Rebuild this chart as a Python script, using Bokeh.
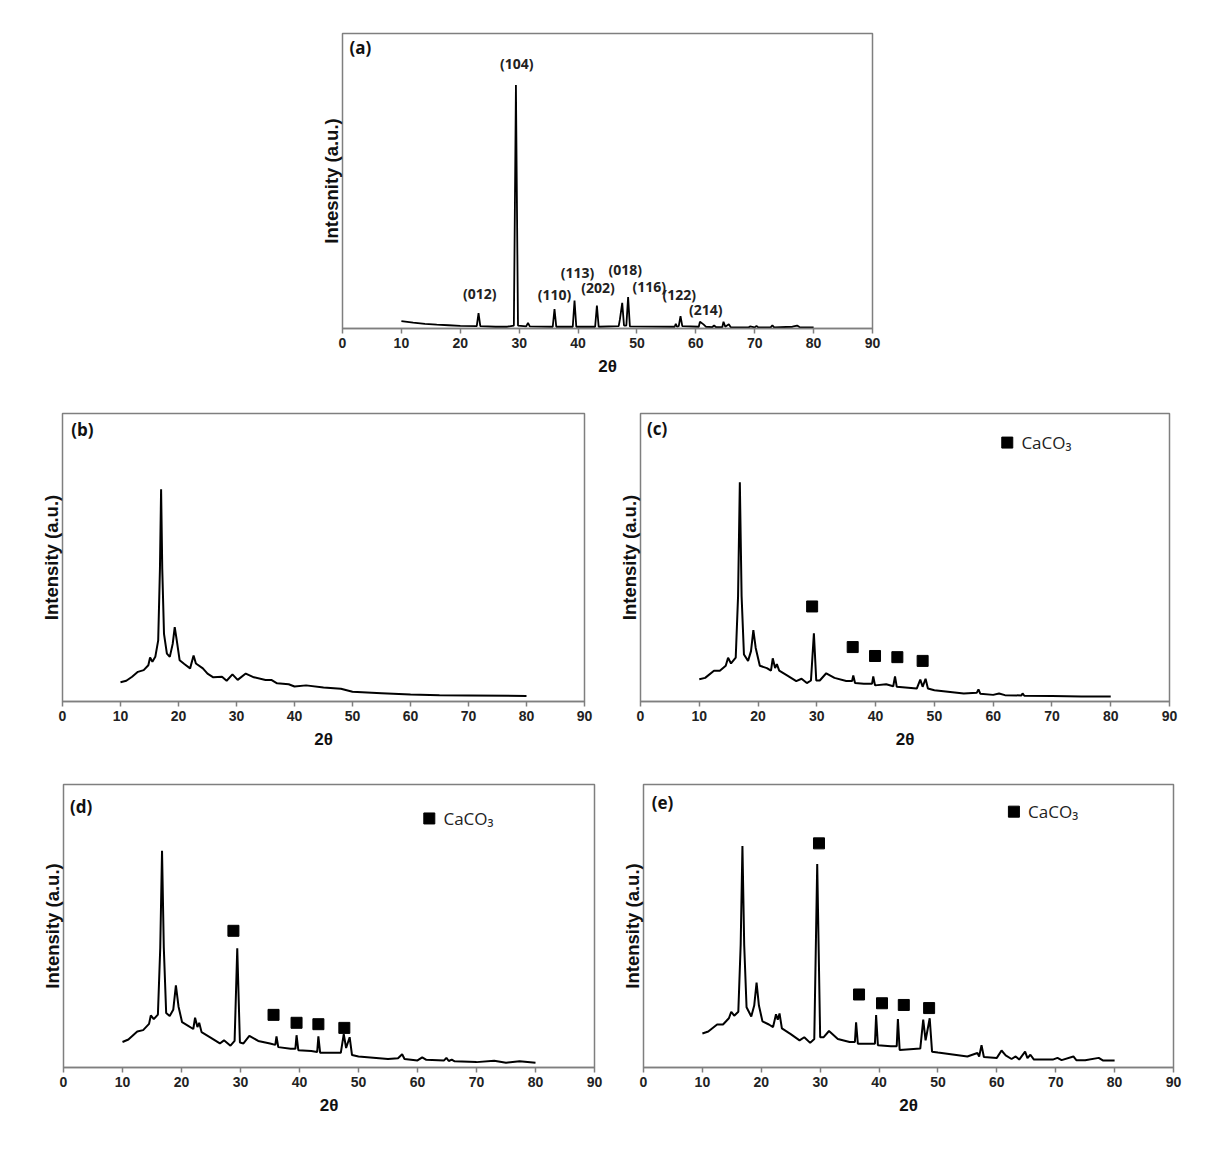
from bokeh.plotting import figure
from bokeh.layouts import column, row
from bokeh.models import Range1d, FixedTicker, Label
from bokeh.core.properties import value
from bokeh.embed import file_html
from bokeh.resources import INLINE

# ---------------- data ----------------
x_ticks = [0, 10, 20, 30, 40, 50, 60, 70, 80, 90]

# (a) calcite reference pattern
a_x = [10.0, 12, 14, 16, 18, 20, 22.8, 23.1, 23.4, 26, 28, 29.1, 29.45, 29.8, 31.2, 31.5, 31.8,
       35.7, 36.0, 36.3, 39.1, 39.4, 39.7, 42.9, 43.2, 43.5, 46.9, 47.1, 47.5, 47.8, 48.2, 48.5, 48.8,
       56.4, 56.6, 56.8, 57.1, 57.4, 57.7, 60.5, 60.7, 61.3, 61.7, 62.8, 63.1, 63.4, 64.5, 64.7, 65.0,
       65.6, 65.9, 69.0, 69.2, 70.0, 70.3, 70.6, 72.7, 73.0, 73.3, 76.4, 77.2, 77.6, 80.0]
a_y = [2.5, 2.0, 1.6, 1.3, 1.1, 0.9, 0.8, 5.2, 0.8, 0.6, 0.6, 1.0, 82.5, 1.0, 0.7, 1.9, 0.7,
       0.6, 6.6, 0.6, 0.6, 9.5, 0.6, 0.6, 7.8, 0.6, 0.8, 3.0, 8.7, 1.0, 1.0, 10.7, 0.7,
       0.6, 1.6, 0.6, 0.8, 4.2, 0.8, 0.6, 2.3, 1.4, 0.6, 0.5, 1.0, 0.5, 0.5, 2.3, 0.6,
       1.4, 0.5, 0.4, 0.7, 0.4, 0.9, 0.4, 0.4, 1.1, 0.4, 0.6, 1.0, 0.5, 0.4]
a_peak_labels = ["(012)", "(104)", "(110)", "(113)", "(202)", "(018)", "(116)", "(122)", "(214)"]
a_label_x = [23.3, 29.6, 36.0, 39.9, 43.4, 48.0, 52.1, 57.2, 61.7]
a_label_y = [11.8, 89.8, 11.5, 18.9, 13.8, 20.0, 14.1, 11.5, 6.4]

# (b)
b_x = [10, 11, 12, 13, 14, 14.8, 15.1, 15.5, 16.0, 16.5, 16.8, 17.0, 17.2, 17.5, 18.0, 18.5,
       19.0, 19.35, 19.7, 20.2, 21, 22, 22.6, 23, 24.2, 25, 26, 27.5, 28.3, 29.3, 30.2, 31.6,
       33, 35, 36, 37, 39, 40, 42, 45, 48, 50, 55, 60, 65, 70, 80]
b_y = [6.7, 7.2, 8.6, 10.3, 10.9, 12.6, 15.3, 13.8, 15.5, 21.2, 46.0, 73.7, 46.0, 23.5, 16.6, 15.5,
       20.0, 25.8, 21.2, 14.3, 13.0, 11.5, 16.0, 13.2, 11.5, 9.7, 8.4, 8.6, 7.2, 9.4, 7.5, 9.7,
       8.4, 7.5, 7.5, 6.3, 6.0, 5.2, 5.6, 4.9, 4.4, 3.4, 2.9, 2.4, 2.2, 2.1, 1.9]

# (c)
c_x = [10, 11, 12.5, 13.5, 14.5, 14.9, 15.4, 16.2, 16.6, 16.9, 17.2, 17.6, 18.3, 18.8, 19.2, 19.6,
       20.3, 21.5, 22.2, 22.5, 22.9, 23.2, 23.6, 25, 26.5, 27.4, 28.3, 29.0, 29.5, 29.9, 30.5, 31.6,
       33, 35, 36.0, 36.2, 36.5, 38, 39.4, 39.6, 39.9, 41.8, 43.0, 43.3, 43.6, 47.0, 47.6, 48.0,
       48.5, 48.9, 50, 55, 57.2, 57.5, 57.8, 60, 61, 62, 64.8, 65.0, 65.3, 70, 75, 80]
c_y = [7.7, 8.2, 10.7, 10.7, 12.4, 15.2, 13.2, 15.2, 36.6, 76.1, 36.6, 16.3, 14.1, 17.5, 24.8, 18.6,
       12.4, 11.6, 10.7, 15.0, 11.6, 13.0, 10.7, 9.0, 7.1, 7.9, 6.4, 7.3, 23.7, 7.3, 7.3, 9.8,
       8.2, 7.1, 7.1, 9.0, 6.4, 6.2, 6.2, 8.7, 5.6, 6.0, 5.3, 8.7, 5.1, 4.5, 7.6, 5.1,
       7.9, 4.5, 3.9, 2.8, 3.0, 4.2, 2.7, 2.3, 2.8, 2.2, 2.1, 2.8, 2.0, 1.9, 1.7, 1.7]
c_mark_x = [29.2, 36.1, 39.9, 43.7, 48.0]
c_mark_y = [33.0, 18.9, 15.8, 15.4, 14.1]

# (d)
d_x = [10, 11, 12.5, 13.5, 14.5, 14.8, 15.3, 16.0, 16.4, 16.7, 17.0, 17.4, 18.0, 18.6, 19.05, 19.5,
       20.1, 21.0, 22.0, 22.3, 22.7, 23.0, 23.4, 25, 26.5, 27.2, 28.3, 29.0, 29.45, 29.9, 30.5, 31.5,
       33, 35, 35.9, 36.1, 36.4, 38.5, 39.3, 39.5, 39.8, 42, 43.0, 43.2, 43.5, 47.0, 47.5, 47.9,
       48.5, 48.9, 50, 55, 56.7, 57.4, 57.8, 60, 60.8, 61.5, 64.5, 64.9, 65.3, 65.8, 66.3, 70,
       73, 75, 77.3, 80]
d_y = [9.0, 9.9, 12.7, 13.2, 15.4, 18.4, 17.1, 18.7, 42.4, 76.6, 42.4, 19.3, 18.2, 20.4, 29.0, 21.5,
       16.0, 14.9, 13.6, 17.6, 14.3, 15.8, 12.5, 10.5, 8.5, 9.6, 7.7, 9.4, 42.1, 8.8, 8.5, 11.2,
       9.4, 8.5, 8.0, 11.0, 7.2, 6.6, 6.6, 11.4, 6.1, 5.8, 5.5, 11.0, 5.2, 5.2, 11.8, 6.9,
       10.7, 4.4, 3.9, 3.0, 3.3, 4.7, 3.0, 2.5, 3.6, 2.7, 2.5, 3.4, 2.3, 2.8, 2.2, 1.9,
       2.4, 1.7, 2.2, 1.7]
d_mark_x = [28.8, 35.6, 39.5, 43.2, 47.6]
d_mark_y = [48.3, 18.6, 15.8, 15.3, 14.0]

# (e)
e_x = [10, 11, 12.5, 13.5, 14.5, 14.9, 15.4, 16.1, 16.5, 16.8, 17.1, 17.5, 18.3, 18.8, 19.2, 19.6,
       20.2, 21.3, 22.0, 22.5, 22.8, 23.1, 23.5, 25, 26.5, 27.3, 28.3, 29.0, 29.5, 30.0, 30.6, 31.5,
       33, 35, 35.9, 36.1, 36.4, 38, 39.3, 39.5, 39.8, 42, 43.0, 43.2, 43.5, 47.0, 47.5, 47.9,
       48.6, 49.0, 50, 55, 56.7, 57.0, 57.4, 57.8, 60, 60.8, 61.5, 62.5, 63.2, 63.8, 64.8, 65.2,
       65.7, 66.3, 69.5, 70.3, 71, 73.0, 73.5, 75, 77.3, 78, 80]
e_y = [12.0, 12.7, 15.2, 15.2, 17.4, 19.7, 18.3, 19.7, 43.3, 78.3, 43.3, 21.3, 18.0, 21.9, 30.0, 21.9,
       16.3, 15.2, 14.3, 18.8, 16.9, 19.1, 13.8, 11.8, 9.6, 10.7, 8.7, 10.1, 71.9, 10.7, 10.7, 12.9,
       10.1, 9.0, 9.0, 16.0, 8.4, 8.4, 8.4, 18.5, 7.9, 7.5, 7.5, 17.1, 6.2, 6.7, 16.9, 9.6,
       17.4, 5.6, 5.3, 3.9, 5.1, 3.9, 7.9, 3.7, 3.4, 6.0, 4.3, 3.0, 3.9, 2.8, 5.6, 3.3,
       4.5, 2.8, 2.8, 3.4, 2.6, 3.9, 2.6, 2.6, 3.4, 2.5, 2.5]
e_mark_x = [29.8, 36.6, 40.5, 44.2, 48.5]
e_mark_y = [79.2, 25.8, 22.7, 22.1, 21.0]

legend_text = "CaCO\u2083"

# ---------------- drawing ----------------
GRAY = "#7f7f7f"


def make_panel(width, height, left, right, top, bottom, ylabel):
    p = figure(width=width, height=height, output_backend="svg", toolbar_location=None, tools="",
               x_range=Range1d(0, 90), y_range=Range1d(0, 100), title_location=None,
               min_border_left=left, min_border_right=right,
               min_border_top=top, min_border_bottom=bottom)
    p.background_fill_color = "white"
    p.border_fill_color = "white"
    p.outline_line_color = GRAY
    p.outline_line_width = 1.5
    p.xgrid.visible = False
    p.ygrid.visible = False

    xa = p.xaxis[0]
    xa.ticker = FixedTicker(ticks=x_ticks)
    xa.axis_line_color = GRAY
    xa.axis_line_width = 1.5
    xa.major_tick_line_color = GRAY
    xa.major_tick_line_width = 1.5
    xa.major_tick_in = 0
    xa.major_tick_out = 5
    xa.minor_tick_line_color = None
    xa.major_label_text_font = "Liberation Sans"
    xa.major_label_text_font_style = "bold"
    xa.major_label_text_font_size = "14px"
    xa.major_label_text_color = "#222222"
    xa.major_label_standoff = 4
    xa.axis_label = "2\u03b8"
    xa.axis_label_text_font = "Liberation Sans"
    xa.axis_label_text_font_style = "bold"
    xa.axis_label_text_font_size = "17px"
    xa.axis_label_text_color = "#111111"
    xa.axis_label_standoff = 6

    ya = p.yaxis[0]
    ya.ticker = FixedTicker(ticks=[])
    ya.axis_line_color = None
    ya.major_tick_line_color = None
    ya.minor_tick_line_color = None
    ya.major_tick_out = 0
    ya.major_tick_in = 0
    ya.major_label_standoff = 0
    ya.axis_label = ylabel
    ya.axis_label_text_font = "Liberation Sans"
    ya.axis_label_text_font_style = "bold"
    ya.axis_label_text_font_size = "18.5px"
    ya.axis_label_text_color = "#111111"
    ya.axis_label_standoff = 1
    return p


def panel_label(p, txt, x, y):
    p.add_layout(Label(x=x, y=y, text=txt, text_font="Open Sans", text_font_style="bold",
                       text_font_size="17px", text_baseline="middle", text_align="left",
                       text_color="#111111"))


def caco3(p, mx, my, lx, ly):
    p.scatter(x=mx, y=my, marker="square", size=11, color="black")
    p.scatter(x=[lx], y=[ly], marker="square", size=11, color="black")
    p.add_layout(Label(x=lx + 2.4, y=ly, text=legend_text, text_font="Open Sans",
                       text_font_size="17px", text_baseline="middle", text_align="left",
                       text_color="#222222"))


# (a)
pa = make_panel(1214, 395, 342, 342, 33, 67, "Intesnity (a.u.)")
pa.line(a_x, a_y, line_color="black", line_width=1.8)
pa.text(x=a_label_x, y=a_label_y, text=a_peak_labels, text_font=value("Open Sans"),
        text_font_style="bold", text_font_size="14px", text_align="center",
        text_baseline="middle", text_color="#222222")
panel_label(pa, "(a)", 1.2, 95.3)

# (b)
pb = make_panel(612, 370, 62, 28, 16, 64, "Intensity (a.u.)")
pb.line(b_x, b_y, line_color="black", line_width=2)
panel_label(pb, "(b)", 1.5, 94.6)

# (c)
pc = make_panel(602, 370, 28, 45, 18, 57, "Intensity (a.u.)")
pc.line(c_x, c_y, line_color="black", line_width=2)
caco3(pc, c_mark_x, c_mark_y, 62.4, 89.9)
panel_label(pc, "(c)", 1.1, 94.7)

# (d)
pd_ = make_panel(618, 404, 63, 24, 14, 102, "Intensity (a.u.)")
pd_.line(d_x, d_y, line_color="black", line_width=2)
caco3(pd_, d_mark_x, d_mark_y, 62.0, 88.0)
panel_label(pd_, "(d)", 1.1, 92.1)

# (e)
pe = make_panel(596, 404, 25, 41, 19, 99, "Intensity (a.u.)")
pe.line(e_x, e_y, line_color="black", line_width=2)
caco3(pe, e_mark_x, e_mark_y, 62.9, 90.4)
panel_label(pe, "(e)", 1.4, 93.8)

layout = column(pa, row(pb, pc), row(pd_, pe))
open("out.html", "w").write(file_html(layout, INLINE))
